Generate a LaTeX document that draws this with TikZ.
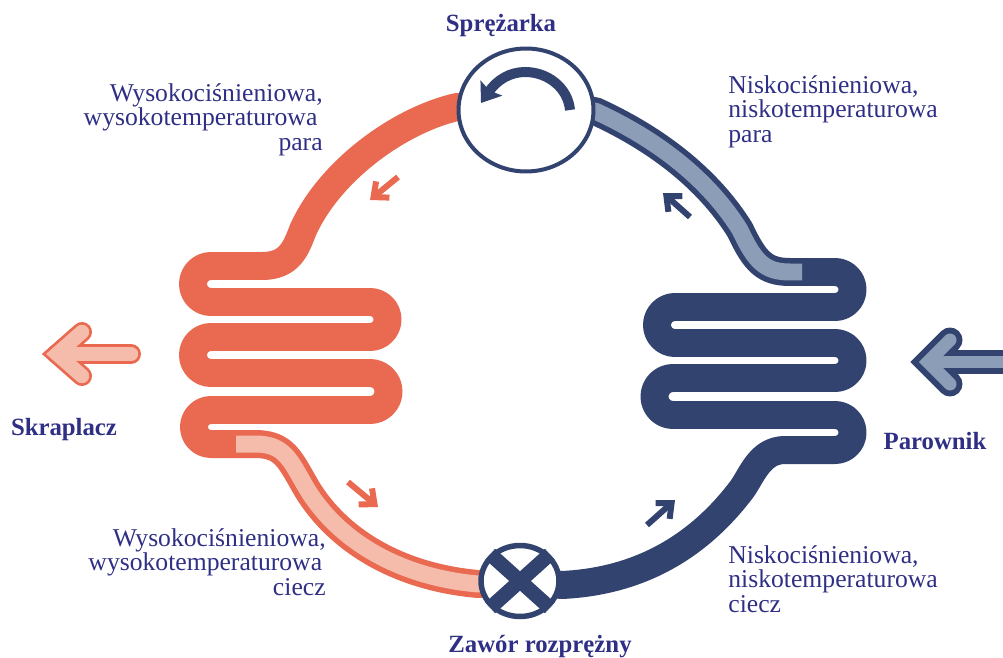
\documentclass[tikz,border=0pt]{standalone}
\usepackage{fontspec}
\setmainfont{Liberation Serif}
\usetikzlibrary{arrows.meta,backgrounds,shapes.geometric}
\definecolor{hotred}{HTML}{E96A50}
\definecolor{hotpale}{HTML}{F5BBAB}
\definecolor{coldblue}{HTML}{33436F}
\definecolor{coldpale}{HTML}{8C9DB8}
\definecolor{labelblue}{HTML}{2F2F85}
\tikzset{
  pipe/.style={line width=0.56cm,line join=round},
  pipeinner/.style={line width=0.34cm,line join=round},
  flowarrow/.style={line width=0.12cm,-{Straight Barb[length=0.24cm,width=0.42cm]}},
  partname/.style={inner sep=0pt,text=labelblue,font=\fontsize{14.1}{14}\selectfont\bfseries},
  statetext/.style={inner sep=0pt,text=labelblue,font=\fontsize{14.6}{13.9}\selectfont},
  valvebar/.style={line width=0.29cm,draw=coldblue}
}
\begin{document}
\begin{tikzpicture}[x=0.02cm,y=0.02cm]
\useasboundingbox (0,0) rectangle (1003,-658);
\node [ellipse,draw=coldblue,fill=white,line width=0.08cm,inner sep=0pt,minimum width=2.7cm,minimum height=2.46cm] (sprezarka) at (526,-110) {};
\node [ellipse,draw=coldblue,fill=white,line width=0.11cm,inner sep=0pt,minimum width=1.56cm,minimum height=1.42cm] (zawor) at (520,-581) {};
\begin{scope}[on background layer]
% hot side
\draw [pipe,hotred] (sprezarka.center) -- (457,-107) .. controls (400,-120) and (330,-170) .. (303,-230) .. controls (296,-248) and (290,-266) .. (262,-266) -- (211,-266) arc (90:270:18) -- (370,-302) arc (90:-90:17.5) -- (211,-337) arc (90:270:18) -- (370,-373) arc (90:-90:18.5) -- (211,-410) arc (90:270:17) -- (255,-444) .. controls (285,-444) and (290,-460) .. (307,-489) .. controls (338,-540) and (398,-577) .. (478,-584) -- (zawor.center);
\draw [pipeinner,hotpale] (236,-444) -- (255,-444) .. controls (285,-444) and (290,-460) .. (307,-489) .. controls (338,-540) and (398,-577) .. (478,-584) -- (zawor.center);
% cold side
\draw [pipe,coldblue] (zawor.center) -- (562,-585) .. controls (625,-582) and (690,-558) .. (742,-489) .. controls (752,-475) and (760,-450) .. (785,-450) -- (835,-450) arc (-90:90:17.5) -- (673,-415) arc (270:90:18.5) -- (835,-378) arc (-90:90:17.5) -- (675,-343) arc (270:90:18) -- (835,-307) arc (-90:90:17.5) -- (790,-272) .. controls (765,-272) and (755,-262) .. (740,-230) .. controls (712,-185) and (665,-143) .. (595,-111) -- (sprezarka.center);
\draw [pipeinner,coldpale] (802,-272) -- (790,-272) .. controls (765,-272) and (755,-262) .. (740,-230) .. controls (712,-185) and (665,-143) .. (595,-111) -- (sprezarka.center);
\end{scope}
% compressor rotor
\draw [coldblue,line width=0.2cm,-{Stealth[length=0.36cm,width=0.52cm,inset=0.06cm]}] (570,-110) .. controls (568,-88) and (548,-72) .. (525,-72) .. controls (510,-72) and (497,-80) .. (481,-103);
% valve cross
\draw [valvebar] (zawor.138) -- (zawor.318);
\draw [valvebar] (zawor.42) -- (zawor.222);
% flow arrows
\coordinate (hota) at (398,-177);
\coordinate (hotb) at (370,-200);
\coordinate (hotc) at (348,-482);
\coordinate (hotd) at (378,-507);
\coordinate (colda) at (647,-525);
\coordinate (coldb) at (675,-500);
\coordinate (coldc) at (690,-217);
\coordinate (coldd) at (663,-193);
\draw [flowarrow,hotred] (hota) -- (hotb);
\draw [flowarrow,hotred] (hotc) -- (hotd);
\draw [flowarrow,coldblue] (colda) -- (coldb);
\draw [flowarrow,coldblue] (coldc) -- (coldd);
% heat arrows
\draw [hotred,line width=0.4cm,line cap=round,miter limit=4] (82,-332) -- (57,-354) -- (82,-376);
\draw [hotred,line width=0.4cm,line cap=round] (57,-354) -- (131,-354);
\draw [hotpale,line width=0.29cm,line cap=round,miter limit=4] (82,-332) -- (57,-354) -- (82,-376);
\draw [hotpale,line width=0.29cm,line cap=round] (57,-354) -- (131,-354);
\draw [coldblue,line width=0.5cm,line cap=round,miter limit=4] (950,-340) -- (928,-362) -- (950,-384);
\draw [coldblue,line width=0.5cm] (928,-362) -- (1003,-362);
\draw [coldpale,line width=0.26cm,line cap=round,miter limit=4] (950,-340) -- (928,-362) -- (950,-384);
\draw [coldpale,line width=0.26cm] (928,-362) -- (1003,-362);
% names
\node [partname,anchor=base] (sprezarkaname) at (501,-32) {Sprężarka};
\node [partname,anchor=base] (zaworname) at (540,-652) {Zawór rozprężny};
\node [partname] (skraplacz) at (64,-430) {Skraplacz};
\node [partname] (parownik) at (935,-441) {Parownik};
\node [statetext,anchor=north east,align=right] (hotvapour) at (323,-83) {Wysokociśnieniowa,\\wysokotemperaturowa\kern3pt\\para};
\node [statetext,anchor=north east,align=right] (hotliquid) at (326,-528) {Wysokociśnieniowa,\\wysokotemperaturowa\kern2pt\\ciecz};
\node [statetext,anchor=north west,align=left] (coldvapour) at (728,-75) {Niskociśnieniowa,\\niskotemperaturowa\\para};
\node [statetext,anchor=north west,align=left] (coldliquid) at (728,-545) {Niskociśnieniowa,\\niskotemperaturowa\\ciecz};
\end{tikzpicture}
\end{document}
